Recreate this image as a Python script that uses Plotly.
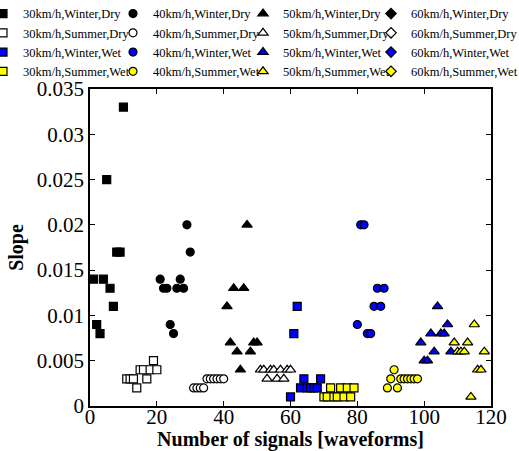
import plotly.graph_objects as go

# ---- data ----
# 30 km/h
x_30_wd = [1, 2, 3, 4, 5, 6, 7, 8, 9, 10]
y_30_wd = [0.014, 0.009, 0.008, 0.014, 0.025, 0.013, 0.011, 0.017, 0.017, 0.033]
x_30_sd = [11, 12, 13, 14, 15, 16, 17, 18, 19, 20]
y_30_sd = [0.003, 0.003, 0.003, 0.002, 0.004, 0.004, 0.003, 0.004, 0.005, 0.004]
x_30_ww = [60, 61, 62, 63, 64, 65, 66, 67, 68, 69]
y_30_ww = [0.001, 0.008, 0.011, 0.002, 0.003, 0.002, 0.002, 0.002, 0.002, 0.003]
x_30_sw = [70, 71, 72, 73, 74, 75, 76, 77, 78, 79]
y_30_sw = [0.001, 0.001, 0.002, 0.001, 0.001, 0.002, 0.001, 0.002, 0.001, 0.002]
# 40 km/h
x_40_wd = [21, 22, 23, 24, 25, 26, 27, 28, 29, 30]
y_40_wd = [0.014, 0.013, 0.013, 0.009, 0.008, 0.013, 0.014, 0.013, 0.020, 0.017]
x_40_sd = [31, 32, 33, 34, 35, 36, 37, 38, 39, 40]
y_40_sd = [0.002, 0.002, 0.002, 0.002, 0.003, 0.003, 0.003, 0.003, 0.003, 0.003]
x_40_ww = [80, 81, 82, 83, 84, 85, 86, 87, 88]
y_40_ww = [0.009, 0.020, 0.020, 0.008, 0.008, 0.011, 0.013, 0.011, 0.013]
x_40_sw = [89, 90, 91, 92, 93, 94, 95, 96, 97, 98]
y_40_sw = [0.002, 0.003, 0.004, 0.002, 0.003, 0.003, 0.003, 0.003, 0.003, 0.003]
# 50 km/h
x_50_wd = [41, 42, 43, 44, 45, 46, 47, 48, 49, 50]
y_50_wd = [0.011, 0.007, 0.013, 0.006, 0.004, 0.013, 0.020, 0.006, 0.007, 0.007]
x_50_sd = [51, 52, 53, 54, 55, 56, 57, 58, 59, 60]
y_50_sd = [0.004, 0.004, 0.003, 0.004, 0.004, 0.003, 0.004, 0.003, 0.004, 0.004]
x_50_ww = [99, 100, 101, 102, 103, 104, 105, 106, 107, 108]
y_50_ww = [0.007, 0.005, 0.005, 0.008, 0.006, 0.011, 0.008, 0.008, 0.009, 0.006]
x_50_sw = [109, 110, 111, 112, 113, 114, 115, 116, 117, 118]
y_50_sw = [0.007, 0.006, 0.006, 0.006, 0.007, 0.001, 0.009, 0.004, 0.004, 0.006]
# 60 km/h (legend only, no visible points)
x_60 = [None]
y_60 = [None]

x_ticks = [0, 20, 40, 60, 80, 100, 120]
y_ticks = [0, 0.005, 0.01, 0.015, 0.02, 0.025, 0.03, 0.035]
y_tick_text = ["0", "0.005", "0.01", "0.015", "0.02", "0.025", "0.03", "0.035"]

FONT = "Liberation Serif, Times New Roman, serif"

fills = {"Winter,Dry": "black", "Summer,Dry": "white",
         "Winter,Wet": "#0000ff", "Summer,Wet": "#ffff00"}
symbols = {"30": "square", "40": "circle", "50": "triangle-up", "60": "diamond"}
sizes = {"30": 8, "40": 8, "50": 9, "60": 8}

speeds = ["30", "40", "50", "60"]
conditions = ["Winter,Dry", "Summer,Dry", "Winter,Wet", "Summer,Wet"]
series = {
    ("30", "Winter,Dry"): (x_30_wd, y_30_wd),
    ("30", "Summer,Dry"): (x_30_sd, y_30_sd),
    ("30", "Winter,Wet"): (x_30_ww, y_30_ww),
    ("30", "Summer,Wet"): (x_30_sw, y_30_sw),
    ("40", "Winter,Dry"): (x_40_wd, y_40_wd),
    ("40", "Summer,Dry"): (x_40_sd, y_40_sd),
    ("40", "Winter,Wet"): (x_40_ww, y_40_ww),
    ("40", "Summer,Wet"): (x_40_sw, y_40_sw),
    ("50", "Winter,Dry"): (x_50_wd, y_50_wd),
    ("50", "Summer,Dry"): (x_50_sd, y_50_sd),
    ("50", "Winter,Wet"): (x_50_ww, y_50_ww),
    ("50", "Summer,Wet"): (x_50_sw, y_50_sw),
    ("60", "Winter,Dry"): (x_60, y_60),
    ("60", "Summer,Dry"): (x_60, y_60),
    ("60", "Winter,Wet"): (x_60, y_60),
    ("60", "Summer,Wet"): (x_60, y_60),
}

legend_names = {"30": "legend", "40": "legend2", "50": "legend3", "60": "legend4"}

fig = go.Figure()
for spd in speeds:
    for cond in conditions:
        xs, ys = series[(spd, cond)]
        fig.add_trace(go.Scatter(
            x=xs, y=ys, mode="markers",
            name=f"{spd}km/h,{cond}",
            legend=legend_names[spd],
            marker=dict(symbol=symbols[spd], size=sizes[spd], color=fills[cond],
                        line=dict(color="black", width=1.2)),
            cliponaxis=False,
        ))

axis_common = dict(
    showline=True, linecolor="black", linewidth=1.5, mirror="ticks",
    ticks="inside", ticklen=5, tickcolor="black", tickwidth=1,
    showgrid=False, zeroline=False,
    tickfont=dict(family=FONT, size=21, color="black"),
)

def legend_at(xpos):
    return dict(
        orientation="v", xref="paper", yref="paper",
        x=xpos, y=1.284, xanchor="left", yanchor="top",
        font=dict(family=FONT, size=12.5, color="black"),
        bgcolor="rgba(255,255,255,0)", borderwidth=0, itemwidth=30,
        tracegroupgap=0,
    )

fig.update_layout(
    width=519, height=451,
    margin=dict(l=90, r=28, t=89, b=45, autoexpand=False),
    paper_bgcolor="white", plot_bgcolor="white",
    font=dict(family=FONT, color="black"),
    showlegend=True,
    legend=legend_at((-17 - 90) / 401),
    legend2=legend_at((113 - 90) / 401),
    legend3=legend_at((243 - 90) / 401),
    legend4=legend_at((371 - 90) / 401),
    xaxis=dict(range=[0, 120], tickvals=x_ticks, ticklabelstandoff=-9,
               title=dict(text="<b>Number of signals [waveforms]</b>",
                          font=dict(family=FONT, size=20, color="black"),
                          standoff=11),
               **axis_common),
    yaxis=dict(range=[0, 0.035], tickvals=y_ticks, ticktext=y_tick_text,
               title=dict(text="<b>Slope</b>",
                          font=dict(family=FONT, size=20, color="black"),
                          standoff=8),
               **axis_common),
)

fig.write_html("out.html",
               config={"displayModeBar": False},
               post_script="document.body.style.margin='0';document.body.style.padding='0';")
